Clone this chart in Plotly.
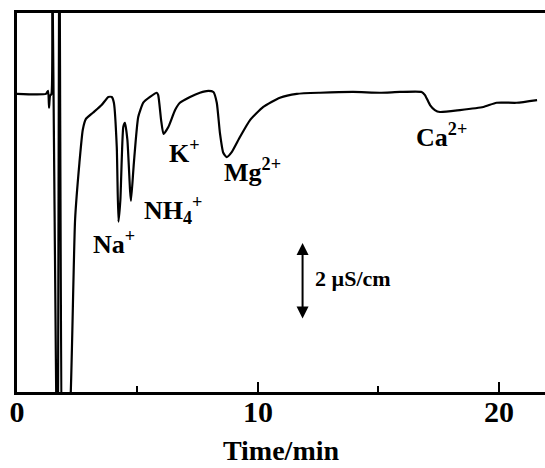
import plotly.graph_objects as go

# Chromatogram trace
time_min = [0.00, 1.20, 1.29, 1.33, 1.37, 1.43, 1.45, 1.68, 1.76, 1.91, 2.22,
            2.41, 2.59, 2.73, 2.86, 3.15, 3.51, 3.79, 3.93, 4.02, 4.14, 4.21,
            4.29, 4.41, 4.48, 4.58, 4.69, 4.73, 4.85, 5.03, 5.24, 5.52, 5.80,
            5.86, 5.98, 6.08, 6.28, 6.56, 6.76, 7.18, 7.59, 7.94, 8.15, 8.29,
            8.42, 8.56, 8.70, 8.91, 9.25, 9.67, 10.22, 10.91, 11.61, 12.57,
            13.95, 15.06, 15.89, 16.79, 16.93, 17.14, 17.34, 17.55, 18.38,
            19.35, 19.90, 20.73, 21.58]
conductance = [7.74, 7.74, 7.82, 7.38, 7.69, 7.74, 12.0, -3.0, 12.0, -3.0, -0.2,
               4.47, 5.95, 6.81, 7.09, 7.25, 7.45, 7.66, 7.66, 7.51, 6.36, 4.42,
               4.99, 6.88, 6.99, 6.55, 5.25, 4.96, 5.95, 7.14, 7.51, 7.66, 7.77,
               7.71, 7.06, 6.70, 6.88, 7.32, 7.51, 7.66, 7.77, 7.82, 7.79, 7.51,
               6.73, 6.21, 6.10, 6.23, 6.62, 7.06, 7.40, 7.64, 7.74, 7.77,
               7.79, 7.77, 7.79, 7.79, 7.71, 7.45, 7.32, 7.27, 7.32,
               7.40, 7.51, 7.51, 7.58]

# Peak labels
peak_labels = ["Na<sup>+</sup>", "NH<sub>4</sub><sup>+</sup>", "K<sup>+</sup>",
               "Mg<sup>2+</sup>", "Ca<sup>2+</sup>"]
label_t = [3.08, 5.20, 6.22, 8.50, 16.48]
label_y = [3.40, 4.21, 5.77, 5.27, 6.18]

# Scale bar: 2 µS/cm
scale_t = 11.85
scale_y0 = 1.87
scale_len = 2.0
scale_text = "2 µS/cm"

x_ticks = [0, 10, 20]
x_range = [0, 21.91]
y_range = [0, 9.84]

FONT = "Liberation Serif"

fig = go.Figure()
fig.add_trace(go.Scatter(
    x=time_min, y=conductance, mode="lines",
    line=dict(color="black", width=2.2, shape="spline", smoothing=0.5),
    hoverinfo="skip", showlegend=False,
))

for txt, t, y in zip(peak_labels, label_t, label_y):
    fig.add_annotation(x=t, y=y, xref="x", yref="y", text=txt, showarrow=False,
                       xanchor="left", yanchor="bottom",
                       font=dict(family=FONT, size=26, color="black", weight="bold"))

fig.add_annotation(x=scale_t, y=scale_y0 + scale_len, ax=scale_t, ay=scale_y0,
                   xref="x", yref="y", axref="x", ayref="y", text="",
                   showarrow=True, arrowhead=2, arrowside="end+start",
                   arrowsize=1.2, arrowwidth=2, arrowcolor="black",
                   standoff=0, startstandoff=0)
fig.add_annotation(x=12.28, y=2.57, xref="x", yref="y", text=scale_text,
                   showarrow=False, xanchor="left", yanchor="bottom",
                   font=dict(family=FONT, size=22, color="black", weight="bold"))

fig.update_layout(
    width=545, height=468,
    margin=dict(l=17, r=0, t=13, b=76),
    paper_bgcolor="white", plot_bgcolor="white",
    font=dict(family=FONT, color="black"),
    xaxis=dict(range=x_range, tickvals=x_ticks, ticks="inside", ticklen=10,
               tickwidth=2, tickcolor="black", showline=True, linewidth=2.5,
               linecolor="black", mirror=True, showgrid=False, zeroline=False,
               ticklabelstandoff=-9,
               tickfont=dict(family=FONT, size=30, color="black", weight="bold"),
               minor=dict(dtick=5, tick0=0, ticks="inside", ticklen=6,
                          tickwidth=2, tickcolor="black", showgrid=False),
               title=dict(text="Time/min", standoff=14,
                          font=dict(family=FONT, size=28, color="black", weight="bold"))),
    yaxis=dict(range=y_range, showline=True, linewidth=2.5, linecolor="black",
               showticklabels=False, ticks="", showgrid=False, zeroline=False),
)

fig.write_html("out.html", config={"displayModeBar": False},
               post_script="document.body.style.margin='0';")
